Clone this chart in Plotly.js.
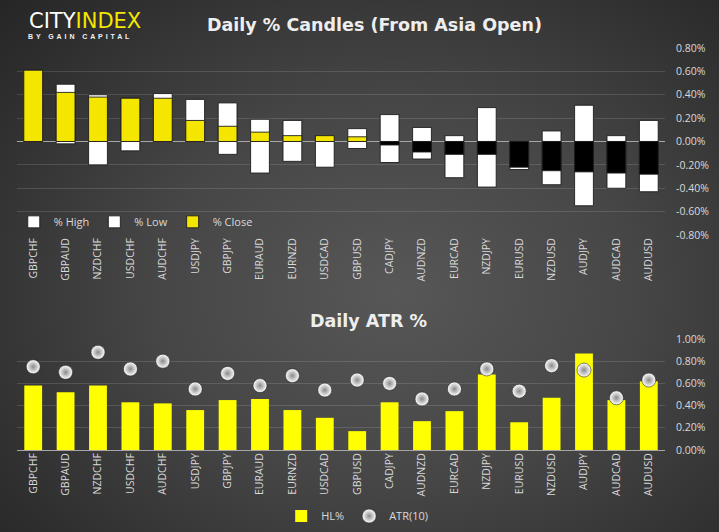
<!DOCTYPE html>
<html>
<head>
<meta charset="utf-8">
<script src="https://cdn.plot.ly/plotly-3.0.1.min.js"></script>
<style>
  html, body { margin:0; padding:0; width:719px; height:532px; overflow:hidden;
    background: radial-gradient(ellipse 75% 80% at 55% 55%, #575757 0%, #464646 45%, #2e2e2e 85%, #262626 100%); }
  #chart { position:absolute; left:0; top:0; width:719px; height:532px; }
  #sub { position:absolute; left:28px; top:33px; font-family:"Liberation Sans", Arial, sans-serif; font-weight:bold;
    font-size:7px; letter-spacing:2.9px; color:#f2f2f2; white-space:nowrap; }
</style>
</head>
<body>
<div id="chart"></div>
<div id="sub">BY GAIN CAPITAL</div>
<script>
// ---- data ----
const pairs = ["GBPCHF","GBPAUD","NZDCHF","USDCHF","AUDCHF","USDJPY","GBPJPY","EURAUD","EURNZD","USDCAD","GBPUSD","CADJPY","AUDNZD","EURCAD","NZDJPY","EURUSD","NZDUSD","AUDJPY","AUDCAD","AUDUSD"];
const pctHigh  = [0.61, 0.49, 0.40, 0.37, 0.41, 0.36, 0.33, 0.19, 0.18, 0.05, 0.11, 0.23, 0.12, 0.05, 0.29, 0.00, 0.09, 0.31, 0.05, 0.18];
const pctLow   = [0.00,-0.02,-0.20,-0.08, 0.00, 0.00,-0.11,-0.27,-0.17,-0.22,-0.06,-0.18,-0.15,-0.31,-0.39,-0.24,-0.37,-0.55,-0.40,-0.43];
const pctClose = [0.61, 0.42, 0.38, 0.37, 0.37, 0.18, 0.13, 0.08, 0.05, 0.05, 0.04,-0.03,-0.09,-0.11,-0.11,-0.22,-0.25,-0.26,-0.27,-0.28];
const hlPct    = [0.58, 0.52, 0.58, 0.43, 0.42, 0.36, 0.45, 0.46, 0.36, 0.29, 0.17, 0.43, 0.26, 0.35, 0.68, 0.25, 0.47, 0.87, 0.45, 0.62];
const atr10    = [0.75, 0.70, 0.88, 0.73, 0.80, 0.55, 0.69, 0.58, 0.67, 0.54, 0.63, 0.60, 0.46, 0.55, 0.73, 0.53, 0.76, 0.72, 0.47, 0.63];
const yTicks1 = [-0.8,-0.6,-0.4,-0.2,0,0.2,0.4,0.6,0.8];
const yTickText1 = ["-0.80%","-0.60%","-0.40%","-0.20%","0.00%","0.20%","0.40%","0.60%","0.80%"];
const yTicks2 = [0,0.2,0.4,0.6,0.8,1.0];
const yTickText2 = ["0.00%","0.20%","0.40%","0.60%","0.80%","1.00%"];

const YEL = '#f5e600';
const closeColors = pctClose.map(v => v >= 0 ? YEL : '#000000');
const barLine = {color:'rgba(30,30,30,0.9)', width:1};
const tickFont = {family:'"Open Sans", sans-serif', size:10.5, color:'#d9d9d9'};
const catRange = [-0.5, pairs.length - 0.5];

const traces = [
  {type:'bar', name:'% High', x:pairs, y:pctHigh, xaxis:'x', yaxis:'y', width:0.58,
   marker:{color:'#ffffff', line:barLine}, legend:'legend', hoverinfo:'skip'},
  {type:'bar', name:'% Low', x:pairs, y:pctLow, xaxis:'x', yaxis:'y', width:0.58,
   marker:{color:'#ffffff', line:barLine}, legend:'legend', hoverinfo:'skip'},
  {type:'bar', name:'% Close', x:pairs, y:pctClose, xaxis:'x', yaxis:'y', width:0.58,
   marker:{color:closeColors, line:barLine}, legend:'legend', hoverinfo:'skip'},
  {type:'bar', name:'HL%', x:pairs, y:hlPct, xaxis:'x2', yaxis:'y2', width:0.55,
   marker:{color:'#ffff00', line:{width:0}}, legend:'legend2', hoverinfo:'skip'},
  {type:'scatter', mode:'markers', name:'ATR(10)', x:pairs, y:atr10, xaxis:'x2', yaxis:'y2',
   marker:{size:14, color:'#ffffff', gradient:{type:'radial', color:'#8a8a8a'}, line:{width:0.8, color:'rgba(30,30,30,0.7)'}},
   legend:'legend2', hoverinfo:'skip'}
];

const gridC = 'rgba(255,255,255,0.13)';
const legFont = {family:'"Open Sans", sans-serif', size:11, color:'#d9d9d9'};
const layout = {
  width:719, height:532,
  margin:{l:17, r:54, t:0, b:0},
  paper_bgcolor:'rgba(0,0,0,0)', plot_bgcolor:'rgba(0,0,0,0)',
  barmode:'overlay',
  font:{family:'"Open Sans", sans-serif', color:'#d9d9d9'},
  showlegend:true,
  xaxis:{domain:[0,1], anchor:'y', type:'category', range:catRange, tickangle:-90, showgrid:false, showline:false,
         ticks:'', tickfont:tickFont},
  yaxis:{domain:[0.5583,0.9098], range:[-0.8,0.8], side:'right', tickmode:'array', tickvals:yTicks1, ticktext:yTickText1,
         ticklabelstandoff:10,
         showgrid:true, gridcolor:gridC, gridwidth:1, zeroline:true, zerolinecolor:'#a6a6a6', zerolinewidth:1,
         showline:false, ticks:'', tickfont:tickFont},
  xaxis2:{domain:[0,1], anchor:'y2', type:'category', range:catRange, tickangle:-90, showgrid:false, showline:false,
          ticks:'', tickfont:tickFont},
  yaxis2:{domain:[0.1541,0.3628], range:[0,1.0], side:'right', tickmode:'array', tickvals:yTicks2, ticktext:yTickText2,
          ticklabelstandoff:10,
          showgrid:true, gridcolor:gridC, gridwidth:1, zeroline:true, zerolinecolor:'#a6a6a6', zerolinewidth:1,
          showline:false, ticks:'', tickfont:tickFont},
  legend:{orientation:'h', x:-0.005, y:0.583, xanchor:'left', yanchor:'middle', bgcolor:'rgba(0,0,0,0)',
          font:legFont, itemwidth:30, traceorder:'normal'},
  legend2:{orientation:'h', x:0.525, y:0.03, xanchor:'center', yanchor:'middle', bgcolor:'rgba(0,0,0,0)',
          font:legFont, itemwidth:30, traceorder:'normal'},
  annotations:[
    {text:'<b>Daily % Candles (From Asia Open)</b>', xref:'paper', yref:'paper', x:0.551, y:0.953,
     xanchor:'center', yanchor:'middle', showarrow:false,
     font:{family:'"DejaVu Sans", sans-serif', size:17.5, color:'#eeeeee'}},
    {text:'<b>Daily ATR %</b>', xref:'paper', yref:'paper', x:0.542, y:0.397,
     xanchor:'center', yanchor:'middle', showarrow:false,
     font:{family:'"DejaVu Sans", sans-serif', size:17.5, color:'#eeeeee'}},
    {text:'CITY<span style="color:#f5e600">INDEX</span>', xref:'paper', yref:'paper', x:0.0155, y:0.961,
     xanchor:'left', yanchor:'middle', showarrow:false,
     font:{family:'"DejaVu Sans", sans-serif', size:21, color:'#ffffff'}}
  ]
};

Plotly.newPlot('chart', traces, layout, {staticPlot:true, displayModeBar:false});
</script>
</body>
</html>
